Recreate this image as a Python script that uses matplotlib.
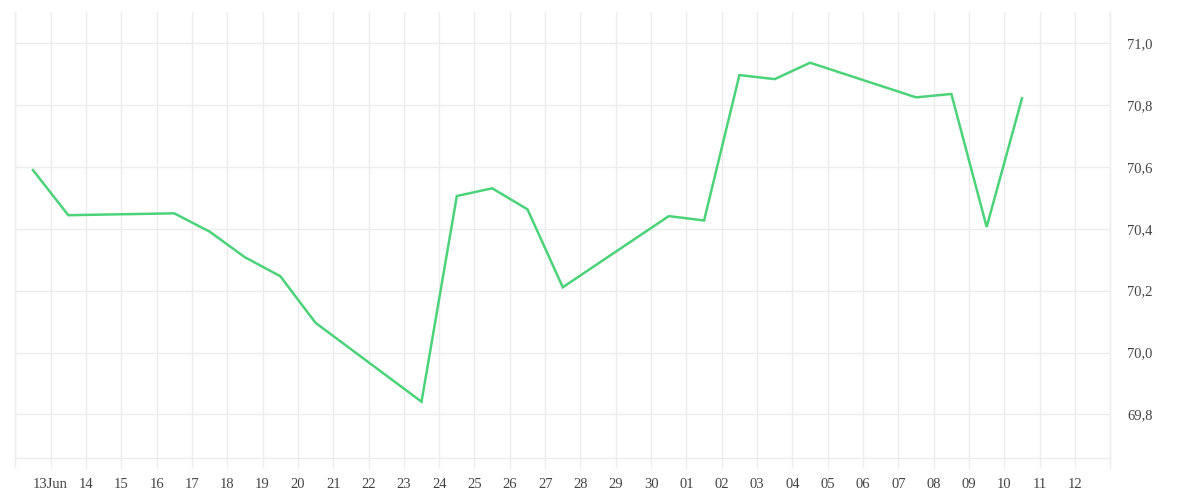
import matplotlib
matplotlib.use('Agg')
import matplotlib.pyplot as plt
import matplotlib.dates as mdates
from matplotlib.ticker import FuncFormatter, MultipleLocator
import numpy as np
import pandas as pd

# daily values (trading days only)
days = ['2025-06-12', '2025-06-13', '2025-06-16', '2025-06-17', '2025-06-18',
        '2025-06-19', '2025-06-20', '2025-06-23', '2025-06-24', '2025-06-25',
        '2025-06-26', '2025-06-27', '2025-06-30', '2025-07-01', '2025-07-02',
        '2025-07-03', '2025-07-04', '2025-07-07', '2025-07-08', '2025-07-09',
        '2025-07-10']
values = [70.590, 70.444, 70.450, 70.391, 70.308,
          70.247, 70.096, 69.841, 70.506, 70.531,
          70.463, 70.211, 70.441, 70.427, 70.897,
          70.884, 70.937, 70.825, 70.836, 70.406,
          70.822]

x_start, x_end = '2025-06-12', '2025-07-13'
y_min, y_max = 69.658, 71.101

grid_col = '#ececec'
text_col = '#444444'
line_col = '#4cd37a'

plt.rcParams['font.family'] = ['Liberation Serif', 'DejaVu Serif']

fig = plt.figure(figsize=(12, 5), dpi=100)
ax = fig.add_axes([0.01275, 0.0834, 0.9125, 0.8926])

x = pd.to_datetime(days) + pd.Timedelta(hours=12)
ax.plot(x, values, color=line_col, lw=1.8, solid_joinstyle='miter')

ax.set_xlim(pd.Timestamp(x_start), pd.Timestamp(x_end))
ax.set_ylim(y_min, y_max)

first_label = pd.Timestamp('2025-06-13')


def day_fmt(v, pos):
    d = mdates.num2date(v).replace(tzinfo=None)
    if d < first_label or d >= pd.Timestamp(x_end):
        return ''
    if d.date() == first_label.date():
        return d.strftime('%d%b')
    return d.strftime('%d')


ax.xaxis.set_major_locator(mdates.DayLocator())
ax.xaxis.set_major_formatter(FuncFormatter(day_fmt))
ax.yaxis.set_major_locator(MultipleLocator(0.2))
ax.yaxis.set_major_formatter(FuncFormatter(lambda v, p: f'{v:.1f}'.replace('.', ',')))

ax.yaxis.tick_right()
ax.tick_params(axis='x', length=7.2, width=1, color=grid_col, labelsize=10.5,
               labelcolor=text_col, pad=7)
ax.tick_params(axis='y', length=0, labelsize=10.5, labelcolor=text_col, pad=12)

ax.grid(True, color=grid_col, lw=1)
ax.set_axisbelow(True)
for side in ['top']:
    ax.spines[side].set_visible(False)
for side in ['left', 'right', 'bottom']:
    ax.spines[side].set_color(grid_col)
    ax.spines[side].set_linewidth(1)

fig.savefig('out.png', dpi=100, facecolor='white')
